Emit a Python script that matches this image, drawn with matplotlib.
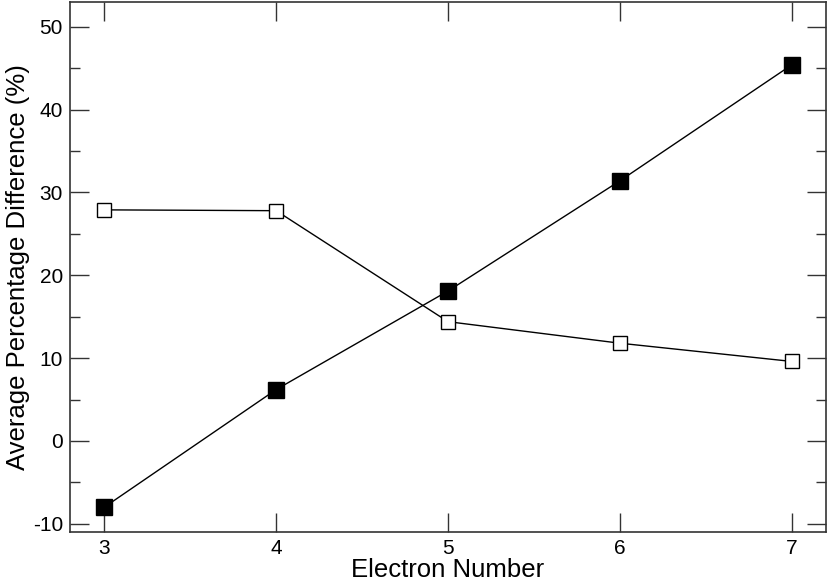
import matplotlib
matplotlib.use("Agg")
import matplotlib.pyplot as plt
from matplotlib.ticker import MultipleLocator

plt.rcParams["font.family"] = ["Liberation Sans", "DejaVu Sans"]
plt.rcParams["axes.unicode_minus"] = False

electrons = [3, 4, 5, 6, 7]
filled_vals = [-8.0, 6.2, 18.1, 31.4, 45.4]
open_vals = [27.9, 27.8, 14.4, 11.8, 9.6]

fig = plt.figure(figsize=(8.3, 5.84), dpi=100)
ax = fig.add_axes([0.0843, 0.089, 0.9109, 0.9076])

ax.plot(electrons, open_vals, color="black", lw=1.0, marker="s", ms=10,
        mfc="white", mec="black", mew=1.0)
ax.plot(electrons, filled_vals, color="black", lw=1.0, marker="s", ms=12,
        mfc="black", mec="black")

ax.set_xlim(2.8, 7.2)
ax.set_ylim(-11, 53)
ax.xaxis.set_major_locator(MultipleLocator(1))
ax.yaxis.set_major_locator(MultipleLocator(10))
ax.yaxis.set_minor_locator(MultipleLocator(5))
ax.tick_params(which="both", direction="in", top=True, right=True,
               labelsize=15, width=1.0, color="#333333")
ax.tick_params(which="major", length=14, pad=5)
ax.tick_params(which="minor", length=7)
for s in ax.spines.values():
    s.set_linewidth(1.2)
    s.set_color("#333333")

ax.set_xlabel("Electron Number", fontsize=18.5, labelpad=0)
ax.set_ylabel("Average Percentage Difference (%)", fontsize=18.5, labelpad=2)

fig.savefig("out.png", dpi=100)
